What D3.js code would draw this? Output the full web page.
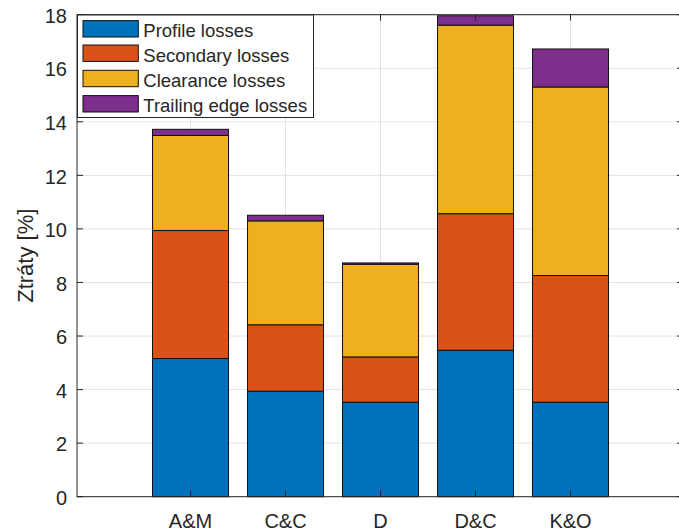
<!DOCTYPE html>
<html>
<head>
<meta charset="utf-8">
<script src="https://cdn.jsdelivr.net/npm/d3@7"></script>
<style>
  html, body { margin: 0; padding: 0; background: #fff; }
  svg { display: block; }
  text { font-family: "Liberation Sans", Arial, Helvetica, sans-serif; fill: #262626; }
</style>
</head>
<body>
<svg id="chart" width="679" height="532"></svg>
<script>
// ---- data ----
const categories = ["A&M", "C&C", "D", "D&C", "K&O"];
const seriesNames = ["Profile losses", "Secondary losses", "Clearance losses", "Trailing edge losses"];
const profileLosses   = [5.16, 3.94, 3.53, 5.47, 3.53];
const secondaryLosses = [4.78, 2.48, 1.69, 5.10, 4.73];
const clearanceLosses = [3.55, 3.88, 3.46, 7.04, 7.04];
const trailingLosses  = [0.23, 0.21, 0.05, 0.35, 1.42];
const yTicks = [0, 2, 4, 6, 8, 10, 12, 14, 16, 18];

const colors = ["#0072BD", "#D95319", "#EDB120", "#7E2F8E"];

// ---- layout ----
const L = 77, R = 683, T = 14.7, B = 496.7;
const svg = d3.select("#chart");

const x = d3.scaleLinear().domain([-1.195, 5.184]).range([L, R]);
const y = d3.scaleLinear().domain([0, 18]).range([B, T]);
const barW = (x(1) - x(0)) * 0.8;

const rows = categories.map((c, i) => ({
  cat: c,
  profile: profileLosses[i],
  secondary: secondaryLosses[i],
  clearance: clearanceLosses[i],
  trailing: trailingLosses[i]
}));
const keys = ["profile", "secondary", "clearance", "trailing"];
const stacked = d3.stack().keys(keys)(rows);

// grid
const grid = svg.append("g");
grid.selectAll("line.h").data(yTicks).enter().append("line")
  .attr("x1", L).attr("x2", R)
  .attr("y1", d => y(d)).attr("y2", d => y(d))
  .attr("stroke", "#e3e3e3").attr("stroke-width", 1);
grid.selectAll("line.v").data(categories).enter().append("line")
  .attr("x1", (d, i) => x(i)).attr("x2", (d, i) => x(i))
  .attr("y1", T).attr("y2", B)
  .attr("stroke", "#e3e3e3").attr("stroke-width", 1);

// bars
svg.append("g").selectAll("g").data(stacked).enter().append("g")
  .attr("fill", (d, i) => colors[i])
  .selectAll("rect").data(d => d).enter().append("rect")
  .attr("x", (d, i) => x(i) - barW / 2)
  .attr("width", barW)
  .attr("y", d => y(d[1]))
  .attr("height", d => y(d[0]) - y(d[1]))
  .attr("stroke", "#111").attr("stroke-width", 1);

// axes (on top)
const axisColor = "#262626";
const tickLen = 6;
const ax = svg.append("g");
ax.append("rect").attr("x", L).attr("y", T).attr("width", R - L).attr("height", B - T)
  .attr("fill", "none").attr("stroke", axisColor).attr("stroke-width", 1);

// y ticks left & right
ax.selectAll("line.yl").data(yTicks).enter().append("line")
  .attr("x1", L).attr("x2", L + tickLen)
  .attr("y1", d => y(d)).attr("y2", d => y(d))
  .attr("stroke", axisColor);
ax.selectAll("line.yr").data(yTicks).enter().append("line")
  .attr("x1", R - tickLen).attr("x2", R)
  .attr("y1", d => y(d)).attr("y2", d => y(d))
  .attr("stroke", axisColor);
// x ticks bottom & top
ax.selectAll("line.xb").data(categories).enter().append("line")
  .attr("x1", (d, i) => x(i)).attr("x2", (d, i) => x(i))
  .attr("y1", B).attr("y2", B - tickLen)
  .attr("stroke", axisColor);
ax.selectAll("line.xt").data(categories).enter().append("line")
  .attr("x1", (d, i) => x(i)).attr("x2", (d, i) => x(i))
  .attr("y1", T).attr("y2", T + tickLen)
  .attr("stroke", axisColor);

// tick labels
ax.selectAll("text.yt").data(yTicks).enter().append("text")
  .attr("x", L - 10).attr("y", d => y(d) + 1)
  .attr("dy", "0.36em")
  .attr("text-anchor", "end")
  .style("font-size", "20px")
  .text(d => d);
ax.selectAll("text.xt").data(categories).enter().append("text")
  .attr("x", (d, i) => x(i)).attr("y", B + 31)
  .attr("text-anchor", "middle")
  .style("font-size", "20px")
  .text(d => d);

// y label
svg.append("text")
  .attr("transform", `translate(32.5, ${(T + B) / 2}) rotate(-90)`)
  .attr("text-anchor", "middle")
  .style("font-size", "22px")
  .text("Ztráty [%]");

// legend
const lg = svg.append("g");
lg.append("rect").attr("x", 77.5).attr("y", 15).attr("width", 236).attr("height", 102.5)
  .attr("fill", "#fff").attr("stroke", axisColor).attr("stroke-width", 1);
const rowY = [28.8, 53.2, 78.5, 103.8];
seriesNames.forEach((name, i) => {
  lg.append("rect").attr("x", 83).attr("y", rowY[i] - 8.2).attr("width", 55.3).attr("height", 16.4)
    .attr("fill", colors[i]).attr("stroke", "#111").attr("stroke-width", 1);
  lg.append("text").attr("x", 143.3).attr("y", rowY[i] + 2).attr("dy", "0.36em")
    .style("font-size", "18.5px").text(name);
});
</script>
</body>
</html>
